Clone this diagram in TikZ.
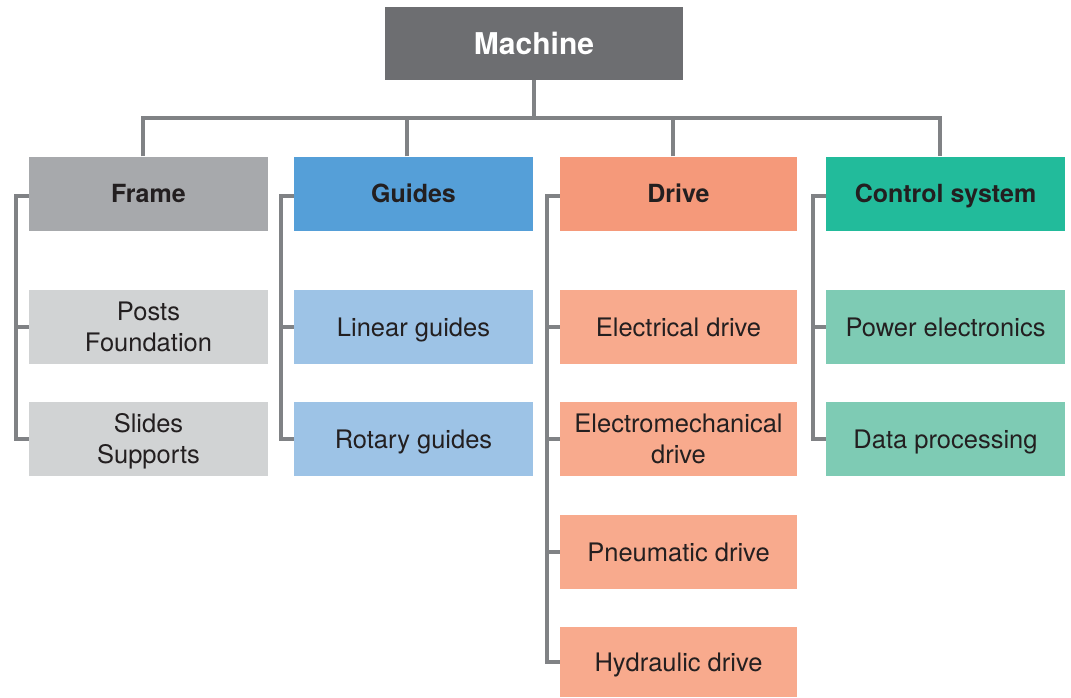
\documentclass[tikz,border=0pt]{standalone}
\usepackage{fontspec}
\setmainfont{TeX Gyre Heros}
\begin{document}
\begin{tikzpicture}[x=1pt,y=-1pt,
  box/.style={rectangle,inner sep=0pt,minimum width=239pt,minimum height=74pt,align=center,text=txt,font=\fontsize{25.5}{31}\selectfont,text height=18.5pt,text depth=0pt},
  twoline/.style={text height=49.5pt},
  head/.style={box,font=\fontsize{25}{31}\selectfont\bfseries},
  conn/.style={draw=lin,line width=4.5pt,line join=miter}]
\definecolor{txt}{HTML}{231F20}
\definecolor{lin}{HTML}{808285}
\definecolor{mach}{HTML}{6D6E71}
\definecolor{frH}{HTML}{A7A9AC}\definecolor{frC}{HTML}{D1D3D4}
\definecolor{guH}{HTML}{559FD8}\definecolor{guC}{HTML}{9DC3E6}
\definecolor{drH}{HTML}{F5997A}\definecolor{drC}{HTML}{F8AA8D}
\definecolor{coH}{HTML}{22BB9B}\definecolor{coC}{HTML}{7ECBB4}
\useasboundingbox (0,0) rectangle (1071,697);
\fill[white] (0,0) rectangle (1071,697);
\coordinate (busL) at (143,118);
\coordinate (busR) at (940,118);
% nodes
\node[box,fill=mach,text=white,minimum width=298pt,minimum height=73pt,font=\fontsize{30}{31}\selectfont\bfseries,text height=21.5pt] (m) at (534,43.5) {Machine};
\node[head,fill=frH] (f) at (148.5,193.5) {Frame};
\node[head,fill=guH] (g) at (413.5,193.5) {Guides};
\node[head,fill=drH,minimum width=237pt] (d) at (678.5,193.5) {Drive};
\node[head,fill=coH] (c) at (945.5,193.5) {Control system};
\node[box,twoline,fill=frC] (f1) at (148.5,327) {Posts\\Foundation};
\node[box,twoline,fill=frC] (f2) at (148.5,439) {Slides\\Supports};
\node[box,fill=guC] (g1) at (413.5,327) {Linear guides};
\node[box,fill=guC] (g2) at (413.5,439) {Rotary guides};
\node[box,fill=drC,minimum width=237pt] (d1) at (678.5,327) {Electrical drive};
\node[box,twoline,fill=drC,minimum width=237pt] (d2) at (678.5,439) {Electromechanical\\drive};
\node[box,fill=drC,minimum width=237pt] (d3) at (678.5,552) {Pneumatic drive};
\node[box,fill=drC,minimum width=237pt,minimum height=70pt] (d4) at (678.5,662) {Hydraulic drive};
\node[box,fill=coC] (c1) at (945.5,327) {Power electronics};
\node[box,fill=coC] (c2) at (945.5,439) {Data processing};
% top tree
\draw[conn] (m.south) -- (m.south |- busL);
\draw[conn] (f.north -| busL) -- (busL) -- (busR) -- (c.north -| busR);
\draw[conn] ([xshift=-6.5pt]g.north) -- ([xshift=-6.5pt]g.north |- busL);
\draw[conn] ([xshift=-5.5pt]d.north) -- ([xshift=-5.5pt]d.north |- busL);
% brackets
\draw[conn] ([yshift=-2.5pt]f.west) -- ++(-13,0) |- (f2.west);
\draw[conn] (f1.west) -- ++(-13,0);
\draw[conn] ([yshift=-2.5pt]g.west) -- ++(-13,0) |- (g2.west);
\draw[conn] (g1.west) -- ++(-13,0);
\draw[conn] ([yshift=-2.5pt]d.west) -- ++(-13,0) |- (d4.west);
\draw[conn] (d1.west) -- ++(-13,0);
\draw[conn] (d2.west) -- ++(-13,0);
\draw[conn] (d3.west) -- ++(-13,0);
\draw[conn] ([yshift=-2.5pt]c.west) -- ++(-13,0) |- (c2.west);
\draw[conn] (c1.west) -- ++(-13,0);
\end{tikzpicture}
\end{document}
